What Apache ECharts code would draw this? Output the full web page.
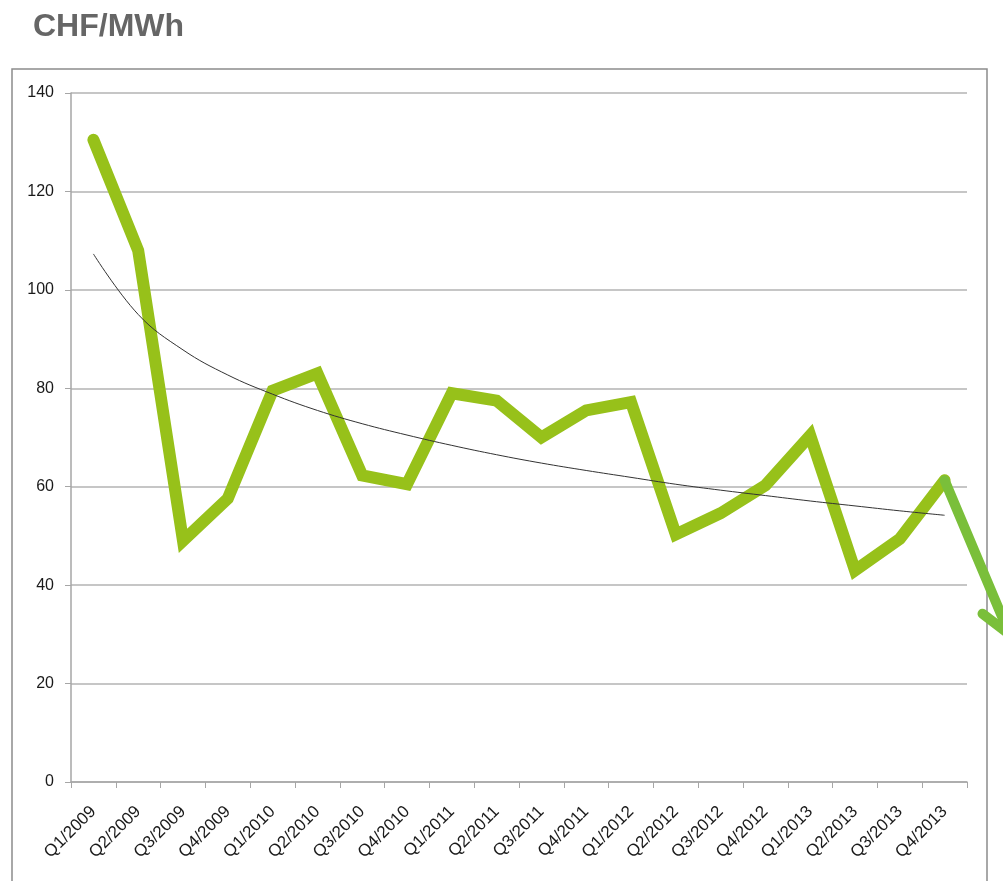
<!DOCTYPE html>
<html>
<head>
<meta charset="utf-8">
<script src="https://cdn.jsdelivr.net/npm/echarts@6/dist/echarts.min.js"></script>
<style>
html,body{margin:0;padding:0;background:#fff;}
#main{width:1003px;height:881px;}
</style>
</head>
<body>
<div id="main"></div>
<script>
var categories = ['Q1/2009','Q2/2009','Q3/2009','Q4/2009','Q1/2010','Q2/2010','Q3/2010','Q4/2010','Q1/2011','Q2/2011','Q3/2011','Q4/2011','Q1/2012','Q2/2012','Q3/2012','Q4/2012','Q1/2013','Q2/2013','Q3/2013','Q4/2013'];
var prices = [130.5, 108, 49, 57.6, 79.5, 83, 62.3, 60.5, 79, 77.5, 70, 75.5, 77.2, 50.3, 54.6, 60.3, 70.4, 43, 49.4, 61.3];
var trend = [107.3, 95.0, 87.8, 82.7, 78.8, 75.5, 72.8, 70.5, 68.4, 66.5, 64.8, 63.3, 61.9, 60.5, 59.3, 58.2, 57.1, 56.1, 55.1, 54.2];
var arrowPoints = [[19, 61.3], [20.45, 30]];
var yTicks = {min: 0, max: 140, interval: 20};

var chart = echarts.init(document.getElementById('main'));
var labelFont = 'Liberation Sans';
chart.setOption({
  animation: false,
  backgroundColor: '#ffffff',
  title: {
    text: 'CHF/MWh',
    left: 28, top: 6,
    textStyle: {fontSize: 32, fontWeight: 'bold', color: '#666666', fontFamily: 'Liberation Sans'}
  },
  graphic: [{
    type: 'rect',
    shape: {x: 12, y: 69, width: 975, height: 900},
    style: {fill: 'none', stroke: '#8c8c8c', lineWidth: 1.5},
    z: 0
  }],
  grid: {left: 71, right: 36, top: 93, bottom: 99, containLabel: false},
  xAxis: [{
    type: 'category',
    data: categories,
    boundaryGap: true,
    axisLine: {lineStyle: {color: '#a6a6a6', width: 1.5}},
    axisTick: {show: true, length: 6, interval: 0, lineStyle: {color: '#a6a6a6', width: 1}},
    axisLabel: {rotate: 45, interval: 0, margin: 27, color: '#1a1a1a', fontSize: 17, fontFamily: labelFont}
  }, {
    type: 'value',
    min: -0.5, max: 19.5,
    show: false
  }],
  yAxis: {
    type: 'value',
    min: yTicks.min, max: yTicks.max, interval: yTicks.interval,
    axisLine: {show: true, onZero: false, lineStyle: {color: '#a6a6a6', width: 1.5}},
    axisTick: {show: true, length: 6, lineStyle: {color: '#a6a6a6', width: 1}},
    axisLabel: {color: '#1a1a1a', fontSize: 16, fontFamily: labelFont, margin: 17},
    splitLine: {lineStyle: {color: '#b3b3b3', width: 1.5}}
  },
  series: [{
    name: 'Preis',
    type: 'line',
    data: prices,
    symbol: 'none',
    lineStyle: {color: '#97c11a', width: 12, join: 'miter', cap: 'round'},
    z: 3
  }, {
    name: 'Trend',
    type: 'line',
    data: trend,
    symbol: 'none',
    smooth: 0.4,
    lineStyle: {color: '#333333', width: 1},
    z: 4
  }, {
    name: 'Pfeil',
    type: 'custom',
    xAxisIndex: 1,
    clip: false,
    data: [0],
    z: 5,
    renderItem: function (params, api) {
      var p0 = api.coord(arrowPoints[0]);
      var p1 = api.coord(arrowPoints[1]);
      var dx = p1[0] - p0[0], dy = p1[1] - p0[1];
      var ang = Math.atan2(-dy, -dx);
      var L = 34, spread = 0.52;
      var a1 = [p1[0] + L * Math.cos(ang - spread), p1[1] + L * Math.sin(ang - spread)];
      var a2 = [p1[0] + L * Math.cos(ang + spread), p1[1] + L * Math.sin(ang + spread)];
      var st = {stroke: '#7abf3a', lineWidth: 10, fill: 'none', lineCap: 'round', lineJoin: 'miter'};
      return {
        type: 'group',
        children: [
          {type: 'polyline', shape: {points: [p0, p1]}, style: st},
          {type: 'polyline', shape: {points: [a1, p1, a2]}, style: st}
        ]
      };
    }
  }]
});
</script>
</body>
</html>
